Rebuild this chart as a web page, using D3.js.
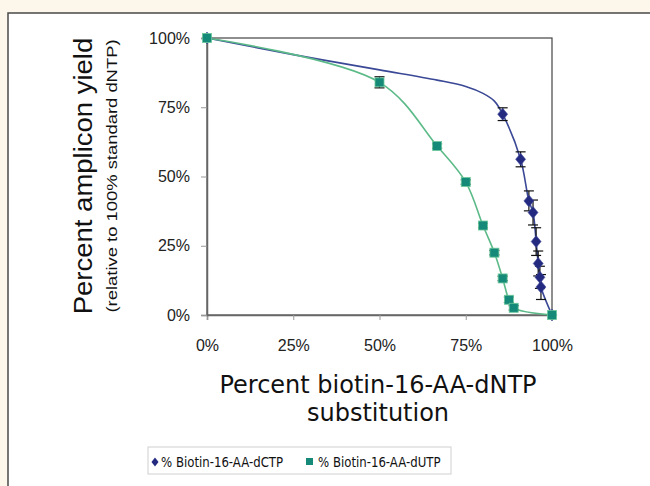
<!DOCTYPE html>
<html>
<head>
<meta charset="utf-8">
<script src="https://cdn.jsdelivr.net/npm/d3@7"></script>
<style>
  body { margin: 0; background: #fcf7ea; }
  svg { display: block; }
  .tick text { font-family: "Liberation Sans", Arial, sans-serif; font-size: 16px; fill: #222; }
  .tick line { stroke: #999; }
  .domain { stroke: #666; stroke-width: 1.5px; }
</style>
</head>
<body>
<svg width="650" height="486"></svg>
<script>
// ---- data ----
// dCTP: the early points carry no marker, they only shape the smoothed line
var dctpX = [0, 25, 50, 66.7, 75, 80, 83.3, 85.7, 90.9, 93.3, 94.5, 95.4, 96, 96.5, 96.8, 100];
var dctpY = [100, 94, 88.5, 84.8, 82.5, 80, 77.2, 72.5, 56.2, 41.2, 37, 26.5, 18.6, 13.6, 10.1, 0];
var dctpErr = [null, null, null, null, null, null, null, 2.3, 2.7, 3.6, 4.5, 5, 4.5, 4, 4.5, null];
var dctpMarker = [true, false, false, false, false, false, false, true, true, true, true, true, true, true, true, true];

var dutpX = [0, 50, 66.7, 75, 80, 83.3, 85.7, 87.5, 88.9, 100];
var dutpY = [100, 84, 61, 48, 32.3, 22.5, 13.2, 5.5, 2.6, 0];
var dutpErr = [null, 2, 0.8, 0.8, 0.8, 0.8, 0.8, 1, 0.8, null];

var xTicks = [0, 25, 50, 75, 100];
var yTicks = [0, 25, 50, 75, 100];

var blueLine = '#3a4896', blueMark = '#232a80';
var greenLine = '#5cba88', greenMark = '#168a78';

var svg = d3.select('svg');

// white panel
svg.append('rect')
    .attr('x', 8).attr('y', 13)
    .attr('width', 700).attr('height', 540)
    .attr('fill', '#fff')
    .attr('stroke', '#4a4a4a')
    .attr('stroke-width', 1.5);

var xScale = d3.scaleLinear().domain([0, 100]).range([207, 552]);
var yScale = d3.scaleLinear().domain([0, 100]).range([315, 38]);

// plot frame
svg.append('rect')
    .attr('x', xScale(0)).attr('y', yScale(100))
    .attr('width', xScale(100) - xScale(0))
    .attr('height', yScale(0) - yScale(100))
    .attr('fill', 'none')
    .attr('stroke', '#444')
    .attr('stroke-width', 1.2);

svg.append('g').attr('class', 'x axis')
    .attr('transform', 'translate(0,' + yScale(0) + ')')
    .call(d3.axisBottom(xScale).tickValues(xTicks).tickSize(5).tickPadding(20)
        .tickFormat(function(d) { return d + '%'; }));

svg.append('g').attr('class', 'y axis')
    .attr('transform', 'translate(' + xScale(0) + ',0)')
    .call(d3.axisLeft(yScale).tickValues(yTicks).tickSize(6).tickPadding(11)
        .tickFormat(function(d) { return d + '%'; }));

// axis titles
svg.append('text')
    .attr('transform', 'translate(92,176) rotate(-90) scale(1.1,1)')
    .attr('text-anchor', 'middle')
    .style('font-family', '"Liberation Sans", Arial, sans-serif')
    .style('font-size', '25px')
    .attr('fill', '#111')
    .text('Percent amplicon yield');

svg.append('text')
    .attr('transform', 'translate(117,176) rotate(-90) scale(1.27,1)')
    .attr('text-anchor', 'middle')
    .style('font-family', '"Liberation Sans", Arial, sans-serif')
    .style('font-size', '14.5px')
    .attr('fill', '#111')
    .text('(relative to 100% standard dNTP)');

var xt = svg.append('text')
    .attr('text-anchor', 'middle')
    .style('font-family', '"DejaVu Sans", sans-serif')
    .style('font-size', '24px')
    .attr('fill', '#111');
xt.append('tspan').attr('x', 378).attr('y', 393).text('Percent biotin-16-AA-dNTP');
xt.append('tspan').attr('x', 378).attr('y', 421).text('substitution');

// lines
var line = d3.line()
    .x(function(d) { return xScale(d.x); })
    .y(function(d) { return yScale(d.y); })
    .curve(d3.curveCatmullRom.alpha(0.5));

var dctp = dctpX.map(function(x, i) {
    return { x: x, y: dctpY[i], err: dctpErr[i], marker: dctpMarker[i] };
});
var dutp = dutpX.map(function(x, i) {
    return { x: x, y: dutpY[i], err: dutpErr[i], marker: true };
});

svg.append('path').datum(dctp)
    .attr('d', line).attr('fill', 'none')
    .attr('stroke', blueLine).attr('stroke-width', 1.6);
svg.append('path').datum(dutp)
    .attr('d', line).attr('fill', 'none')
    .attr('stroke', greenLine).attr('stroke-width', 1.6);

// error bars
function errorBars(data) {
    var g = svg.append('g')
        .attr('stroke', '#111').attr('stroke-width', 1.2).attr('fill', 'none');
    data.filter(function(d) { return d.err != null; }).forEach(function(d) {
        var x = xScale(d.x), y0 = yScale(d.y - d.err), y1 = yScale(d.y + d.err);
        g.append('line').attr('x1', x).attr('x2', x).attr('y1', y0).attr('y2', y1);
        g.append('line').attr('x1', x - 5).attr('x2', x + 5).attr('y1', y0).attr('y2', y0);
        g.append('line').attr('x1', x - 5).attr('x2', x + 5).attr('y1', y1).attr('y2', y1);
    });
}

function diamond(w, h) {
    return 'M0,' + (-h / 2) + 'L' + (w / 2) + ',0L0,' + (h / 2) + 'L' + (-w / 2) + ',0Z';
}

errorBars(dctp);
svg.append('g').selectAll('path')
    .data(dctp.filter(function(d) { return d.marker; }))
    .enter().append('path')
    .attr('d', diamond(10, 12))
    .attr('fill', blueMark)
    .attr('stroke', '#4a52a0').attr('stroke-width', 0.6)
    .attr('transform', function(d) {
        return 'translate(' + xScale(d.x) + ',' + yScale(d.y) + ')';
    });

errorBars(dutp);
svg.append('g').selectAll('rect')
    .data(dutp)
    .enter().append('rect')
    .attr('x', function(d) { return xScale(d.x) - 4.5; })
    .attr('y', function(d) { return yScale(d.y) - 4.5; })
    .attr('width', 9).attr('height', 9)
    .attr('fill', greenMark)
    .attr('stroke', '#6cc79a').attr('stroke-width', 0.8);

// legend
var legend = svg.append('g');
legend.append('rect')
    .attr('x', 148).attr('y', 447).attr('width', 303).attr('height', 27)
    .attr('fill', '#fff').attr('stroke', '#d0d0d0');
legend.append('path')
    .attr('d', diamond(7, 9))
    .attr('transform', 'translate(155,462)')
    .attr('fill', blueMark);
legend.append('rect')
    .attr('x', 306).attr('y', 458).attr('width', 7).attr('height', 7)
    .attr('fill', greenMark);
var legText = [['% Biotin-16-AA-dCTP', 161], ['% Biotin-16-AA-dUTP', 318]];
legText.forEach(function(t) {
    legend.append('text')
        .attr('transform', 'translate(' + t[1] + ',467) scale(0.81,1)')
        .style('font-family', '"DejaVu Sans", sans-serif')
        .style('font-size', '14.5px')
        .attr('fill', '#111')
        .text(t[0]);
});
</script>
</body>
</html>
